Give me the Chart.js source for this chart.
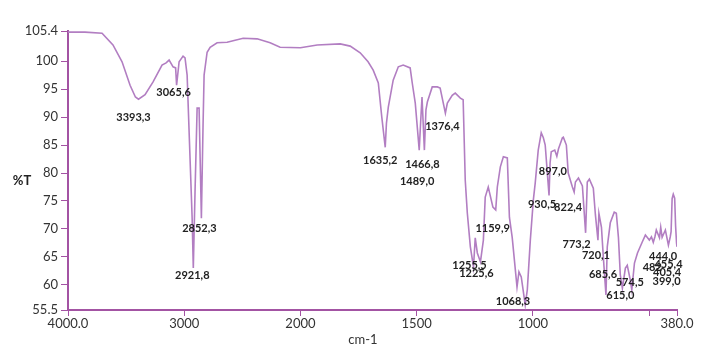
<!DOCTYPE html>
<html>
<head>
<meta charset="utf-8">
<script src="https://cdn.jsdelivr.net/npm/chart.js@4.4.1/dist/chart.umd.min.js"></script>
<style>
  html, body { margin: 0; padding: 0; background: #fff; }
  #wrap { width: 705px; height: 350px; }
</style>
</head>
<body>
<div id="wrap"><canvas id="myChart" width="705" height="350"></canvas></div>
<script>
// ######### datos del espectro IR #########
const wavenumbers = [
  4000, 3854, 3707, 3613, 3535, 3466, 3420, 3393.3, 3337, 3268, 3191, 3156, 3130, 3096, 3074,
  3065.6, 3044, 3010, 2993, 2975, 2950, 2932, 2921.8, 2907, 2889, 2872, 2852.3, 2838, 2829,
  2803, 2777, 2717, 2631, 2493, 2373, 2261, 2175, 2000,
  1928, 1829, 1786, 1743, 1709, 1687, 1665, 1650, 1635.2, 1630, 1622, 1601, 1579, 1558, 1528,
  1519, 1506, 1489.0, 1484, 1477, 1466.8, 1460, 1454, 1433, 1411, 1399, 1376.4, 1368, 1347,
  1334, 1312, 1300, 1291, 1282, 1269, 1255.5, 1248, 1239, 1225.6, 1213, 1205, 1192, 1172,
  1159.9, 1153, 1140, 1127, 1110, 1101, 1089, 1068.3, 1060, 1050, 1033, 1024, 1011, 998, 990,
  977, 964, 955, 947, 930.5, 926, 921, 906, 897.0, 890, 884, 873, 869, 856, 848, 830, 822.4,
  817, 804, 787, 773.2, 766, 757, 740, 731, 720.1, 716, 705, 697, 685.6, 680, 667, 650, 641,
  632, 624, 615.0, 602, 594, 581, 574.5, 563, 550, 529, 516, 499, 490, 482, 475, 469, 455.4,
  450, 444.0, 430, 417, 409, 405.4, 401, 396, 390, 386, 382, 380
];
const transmittance = [
  105.2, 105.2, 105.0, 102.9, 99.9, 95.7, 93.6, 93.2, 94.0, 96.3, 99.3, 99.7, 100.2, 99.0, 98.8,
  95.7, 99.9, 100.9, 100.6, 97.5, 82.7, 72.0, 63.0, 76.6, 91.6, 91.6, 71.9, 88.6, 97.5,
  101.6, 102.5, 103.3, 103.4, 104.1, 104.0, 103.3, 102.5, 102.4,
  102.9, 103.1, 102.7, 101.5, 99.9, 98.4, 96.1, 90.0, 84.6, 88.9, 91.8, 96.6, 99.0, 99.3, 98.8,
  96.1, 92.5, 84.1, 88.2, 93.6, 84.1, 91.3, 92.7, 95.4, 95.4, 95.2, 90.7, 92.5, 93.9,
  94.3, 93.4, 93.1, 78.7, 72.8, 66.8, 63.2, 68.4, 65.7, 64.1, 68.0, 75.7, 77.5, 73.9,
  73.4, 77.5, 81.1, 82.9, 82.7, 72.1, 68.5, 59.6, 62.3, 61.4, 56.4, 59.1, 68.0, 75.2, 78.2,
  84.1, 87.2, 86.3, 85.0, 76.0, 81.8, 83.8, 84.1, 83.0, 84.3, 85.0, 86.3, 86.4, 85.0, 80.0, 77.5, 76.6,
  78.4, 79.1, 77.7, 69.3, 78.4, 78.9, 77.3, 72.5, 68.0, 72.8, 70.3, 65.0, 58.2, 66.8, 71.1, 73.0, 72.8,
  68.5, 61.8, 59.4, 63.0, 63.5, 60.9, 59.1, 63.9, 65.7, 67.7, 68.9, 68.0, 68.6, 67.6, 68.6, 69.8, 68.4,
  70.3, 68.5, 69.8, 67.1, 68.6, 69.5, 75.4, 76.2, 75.5, 70.5, 67.5, 66.8
];
const yTicks = [105.4, 100, 95, 90, 85, 80, 75, 70, 65, 60, 55.5];
const xTickValues = [4000, 3000, 2000, 1500, 1000, 500, 380];
const xTickLabels = ["4000.0", "3000", "2000", "1500", "1000", "", "380.0"];
const peakLabels = [
  "3393,3", "3065,6", "2921,8", "2852,3", "1635,2", "1489,0", "1466,8", "1376,4",
  "1255,5", "1225,6", "1159,9", "1068,3", "930,5", "897,0", "822,4", "773,2", "720,1",
  "685,6", "615,0", "574,5", "482", "455,4", "444,0", "405,4", "399,0"
];
// desplazamiento (px) de cada etiqueta respecto a su pico
const labelOffsets = [
  [-5, 18], [-3, 7], [-1, 7], [-2, 10], [-5, 13], [-2, 31], [-2, 14], [-3, 13],
  [-4, -1], [-4, 12], [-3, 19], [-4, 14], [-7, 9], [-4, 15], [-6, 15], [-9, 12], [-2, 15],
  [-3, -20], [-2, 7], [-2, -7], [-1, 25], [9, 27], [1, 19], [-4, 41], [-6, 85]
];

const lineColor = "#b27ec2";
const axisColor = "#a353a3";

// el eje esta comprimido a la mitad por encima de 2000 cm-1
function toAxis(w) {
  return w > 2000 ? 2000 + (w - 2000) / 2 : w;
}

function tAt(w) {
  for (let i = 0; i < wavenumbers.length - 1; i++) {
    const a = wavenumbers[i], b = wavenumbers[i + 1];
    if (w <= a && w >= b) {
      const f = (a - w) / (a - b);
      return transmittance[i] + f * (transmittance[i + 1] - transmittance[i]);
    }
  }
  return transmittance[transmittance.length - 1];
}

const points = wavenumbers.map((w, i) => ({ x: toAxis(w), y: transmittance[i] }));

// ######### plugin: etiquetas de picos y titulos de ejes #########
const extrasPlugin = {
  id: "extras",
  afterDatasetsDraw(chart) {
    const { ctx, scales } = chart;
    ctx.save();
    ctx.fillStyle = "#222";
    ctx.textAlign = "center";
    ctx.textBaseline = "middle";
    ctx.font = "bold 11px Lato";
    peakLabels.forEach((txt, i) => {
      const w = parseFloat(txt.replace(",", "."));
      const px = scales.x.getPixelForValue(toAxis(w));
      const py = scales.y.getPixelForValue(tAt(w));
      ctx.fillText(txt, px + labelOffsets[i][0], py + labelOffsets[i][1]);
    });
    ctx.font = "bold 13px Lato";
    ctx.fillText("%T", 22, 181);
    ctx.font = "13px Lato";
    ctx.fillStyle = "#333";
    ctx.fillText("cm-1", 363, 340);
    ctx.restore();
  }
};

const config = {
  type: "line",
  data: {
    datasets: [{
      data: points,
      borderColor: lineColor,
      borderWidth: 1.6,
      pointRadius: 0,
      tension: 0,
      fill: false
    }]
  },
  options: {
    responsive: false,
    animation: false,
    devicePixelRatio: 1,
    parsing: false,
    layout: { padding: { top: 31, right: 28, left: 0, bottom: 0 } },
    plugins: { legend: { display: false }, tooltip: { enabled: false } },
    scales: {
      x: {
        type: "linear",
        reverse: true,
        min: 380,
        max: 3000,
        afterBuildTicks: (scale) => {
          scale.ticks = xTickValues.map((w) => ({ value: toAxis(w) }));
        },
        afterFit: (scale) => { scale.height = 40; },
        ticks: {
          autoSkip: false,
          maxRotation: 0,
          padding: 0,
          color: "#333",
          font: { family: "Lato", size: 13 },
          callback: (val, idx) => xTickLabels[idx]
        },
        grid: { drawOnChartArea: false, drawTicks: true, tickLength: 6, color: axisColor, lineWidth: 1 },
        border: { display: true, color: axisColor, width: 2 }
      },
      y: {
        min: 55.5,
        max: 105.4,
        afterBuildTicks: (scale) => {
          scale.ticks = yTicks.map((v) => ({ value: v }));
        },
        afterFit: (scale) => { scale.width = 68; },
        ticks: {
          autoSkip: false,
          padding: 3,
          color: "#333",
          font: { family: "Lato", size: 13 },
          callback: (val, idx) => String(yTicks[idx])
        },
        grid: { drawOnChartArea: false, drawTicks: true, tickLength: 7, color: axisColor, lineWidth: 1 },
        border: { display: true, color: axisColor, width: 2 }
      }
    }
  },
  plugins: [extrasPlugin]
};

const myChart = new Chart(document.getElementById("myChart"), config);
</script>
</body>
</html>
